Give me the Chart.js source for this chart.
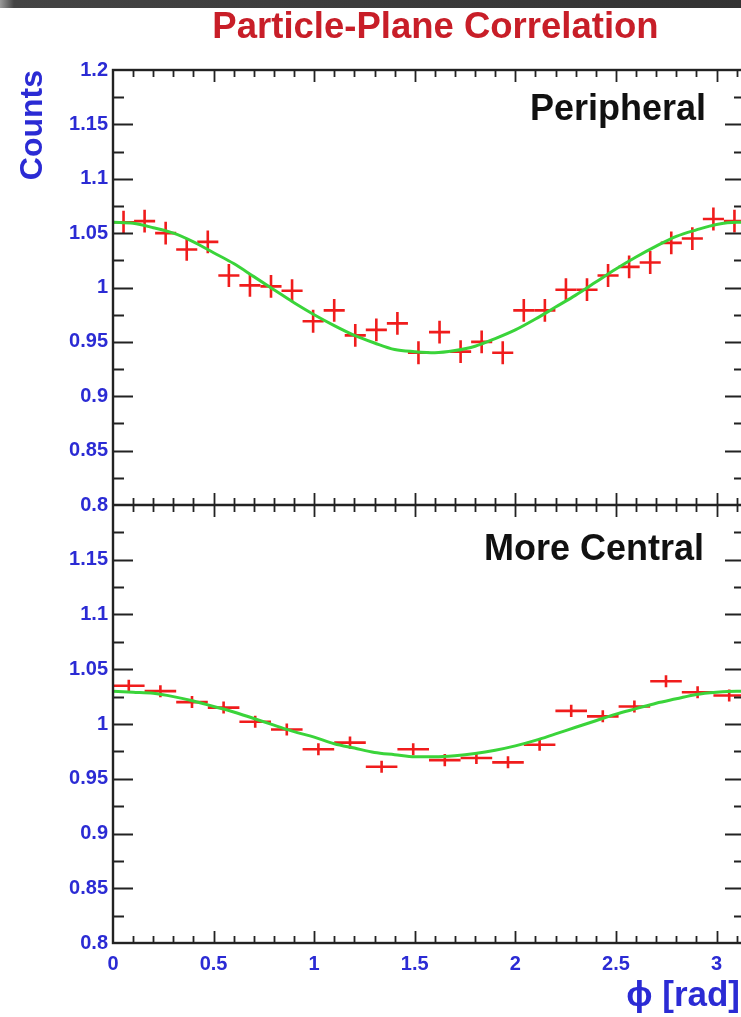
<!DOCTYPE html>
<html>
<head>
<meta charset="utf-8">
<script src="https://cdn.jsdelivr.net/npm/chart.js@4.4.1/dist/chart.umd.min.js"></script>
<style>
  html, body { margin: 0; padding: 0; background: #ffffff; overflow: hidden; width: 741px; height: 1017px; }
  #wrap { position: relative; width: 741px; height: 1017px; overflow: hidden; }
  #topbar { position: absolute; left: 0; top: 0; width: 741px; height: 8px;
            background: linear-gradient(to right, #9a9a9a 0px, #444 14px, #333 100%); }
  canvas { position: absolute; left: 0; top: 0; }
</style>
</head>
<body>
<div id="wrap">
  <canvas id="c" width="780" height="1017"></canvas>
  <div id="topbar"></div>
</div>
<script>
// Peripheral events: 30 bins in phi
const phiTop = [0.0524, 0.1571, 0.2618, 0.3665, 0.4712, 0.5760, 0.6807, 0.7854, 0.8901, 0.9948,
                1.0996, 1.2043, 1.3090, 1.4137, 1.5184, 1.6232, 1.7279, 1.8326, 1.9373, 2.0420,
                2.1468, 2.2515, 2.3562, 2.4609, 2.5656, 2.6704, 2.7751, 2.8798, 2.9845, 3.0892];
const countsTop = [1.060, 1.061, 1.050, 1.035, 1.042, 1.011, 1.002, 1.001, 0.997, 0.969,
                   0.979, 0.956, 0.961, 0.967, 0.940, 0.959, 0.941, 0.950, 0.940, 0.979,
                   0.979, 0.998, 0.998, 1.011, 1.019, 1.023, 1.041, 1.045, 1.063, 1.061];
const errTop = 0.0105;
const halfBinTop = 0.0524;

// More central events: 20 bins in phi
const phiBottom = [0.0785, 0.2356, 0.3927, 0.5498, 0.7069, 0.8639, 1.0210, 1.1781, 1.3352, 1.4923,
                   1.6493, 1.8064, 1.9635, 2.1206, 2.2777, 2.4347, 2.5918, 2.7489, 2.9060, 3.0631];
const countsBottom = [1.035, 1.030, 1.020, 1.015, 1.002, 0.995, 0.977, 0.983, 0.961, 0.977,
                      0.967, 0.969, 0.965, 0.981, 1.012, 1.007, 1.016, 1.039, 1.029, 1.026];
const errBottom = 0.0055;
const halfBinBottom = 0.0785;

// Fitted curves, sampled along phi
const fitPhi = [0, 0.1, 0.2, 0.3, 0.4, 0.5, 0.6, 0.7, 0.8, 0.9, 1.0, 1.1, 1.2, 1.3, 1.4, 1.5,
                1.6, 1.7, 1.8, 1.9, 2.0, 2.1, 2.2, 2.3, 2.4, 2.5, 2.6, 2.7, 2.8, 2.9, 3.0, 3.1, 3.1416];
const fitTop = [1.060, 1.059, 1.055, 1.050, 1.042, 1.032, 1.022, 1.010, 0.998, 0.986, 0.975,
                0.965, 0.956, 0.949, 0.943, 0.941, 0.940, 0.942, 0.946, 0.953, 0.961, 0.971,
                0.982, 0.993, 1.005, 1.017, 1.028, 1.038, 1.047, 1.053, 1.058, 1.060, 1.060];
const fitBottom = [1.030, 1.029, 1.028, 1.025, 1.021, 1.016, 1.011, 1.005, 0.999, 0.993, 0.988,
                   0.982, 0.978, 0.974, 0.972, 0.970, 0.970, 0.971, 0.973, 0.976, 0.980, 0.985,
                   0.991, 0.997, 1.003, 1.009, 1.014, 1.019, 1.023, 1.027, 1.029, 1.030, 1.030];

// Axis ticks
const xTickVals = [0, 0.5, 1, 1.5, 2, 2.5, 3];
const yTickVals = [0.8, 0.85, 0.9, 0.95, 1, 1.05, 1.1, 1.15, 1.2];

const PHI_MAX = Math.PI;
const BLUE = '#2b2bd4';
const RED = '#f01c1c';
const GREEN = '#3ad43a';
const FRAME = '#222222';
const FONT = '"Liberation Sans", Arial, Helvetica, sans-serif';

const toXY = (xs, ys) => xs.map((x, i) => ({ x: x, y: ys[i] }));

// Crosses: horizontal bar = bin width, vertical bar = error
const crossPlugin = {
  id: 'crosses',
  beforeDatasetsDraw(chart) {
    const ctx = chart.ctx;
    const xs = chart.scales.x;
    const area = chart.chartArea;
    ctx.save();
    ctx.beginPath();
    ctx.rect(area.left, area.top, area.right - area.left, area.bottom - area.top);
    ctx.clip();
    chart.data.datasets.forEach(ds => {
      if (ds.errY === undefined) return;
      const ys = chart.scales[ds.yAxisID];
      ctx.strokeStyle = RED;
      ctx.lineWidth = 2.6;
      ds.data.forEach(p => {
        const cx = xs.getPixelForValue(p.x);
        const cy = ys.getPixelForValue(p.y);
        const x0 = xs.getPixelForValue(p.x - ds.halfW);
        const x1 = xs.getPixelForValue(p.x + ds.halfW);
        const y0 = ys.getPixelForValue(p.y + ds.errY);
        const y1 = ys.getPixelForValue(p.y - ds.errY);
        ctx.beginPath();
        ctx.moveTo(x0, cy); ctx.lineTo(x1, cy);
        ctx.moveTo(cx, y0); ctx.lineTo(cx, y1);
        ctx.stroke();
      });
    });
    ctx.restore();
  }
};

// Frame, inward ticks and text annotations
const framePlugin = {
  id: 'frame',
  afterDraw(chart) {
    const ctx = chart.ctx;
    const xs = chart.scales.x;
    const yT = chart.scales.yTop;
    const yB = chart.scales.yBottom;
    const L = chart.chartArea.left, R = chart.chartArea.right;
    ctx.save();
    ctx.strokeStyle = FRAME;
    ctx.lineWidth = 1.8;

    [yT, yB].forEach(s => {
      // y ticks every 0.025, longer at labelled values
      for (let k = 1; k < 16; k++) {
        const v = 0.8 + k * 0.025;
        const py = Math.round(s.getPixelForValue(v)) + 0.5;
        const len = (k % 2 === 0) ? 20 : 11;
        ctx.beginPath();
        ctx.moveTo(L, py); ctx.lineTo(L + len, py);
        ctx.moveTo(R, py); ctx.lineTo(R - len, py);
        ctx.stroke();
      }
      // x ticks every 0.1, longer at labelled values
      for (let k = 1; k <= 31; k++) {
        const px = Math.round(xs.getPixelForValue(k * 0.1)) + 0.5;
        const len = (k % 5 === 0) ? 12 : 7;
        ctx.beginPath();
        ctx.moveTo(px, s.top); ctx.lineTo(px, s.top + len);
        ctx.moveTo(px, s.bottom); ctx.lineTo(px, s.bottom - len);
        ctx.stroke();
      }
    });

    // frame of both panels
    ctx.lineWidth = 2.4;
    ctx.strokeRect(L, yT.top, R - L, yB.bottom - yT.top);
    ctx.beginPath();
    ctx.moveTo(L, yT.bottom); ctx.lineTo(R, yT.bottom);
    ctx.stroke();

    // title
    ctx.fillStyle = '#c81e28';
    ctx.font = 'bold 36.5px ' + FONT;
    ctx.textAlign = 'center';
    ctx.textBaseline = 'alphabetic';
    ctx.fillText('Particle-Plane Correlation', 435.5, 38);

    // panel labels
    ctx.fillStyle = '#111111';
    ctx.font = 'bold 36px ' + FONT;
    ctx.textAlign = 'right';
    ctx.fillText('Peripheral', 706, yT.top + 50);
    ctx.fillText('More Central', 704, yB.top + 55);

    // axis titles
    ctx.fillStyle = BLUE;
    ctx.font = 'bold 35px ' + FONT;
    ctx.fillText('\u03D5 [rad]', 740, 1006);
    ctx.font = 'bold 32px ' + FONT;
    ctx.save();
    ctx.translate(42, yT.top);
    ctx.rotate(-Math.PI / 2);
    ctx.textAlign = 'right';
    ctx.fillText('Counts', 0, 0);
    ctx.restore();

    ctx.restore();
  }
};

const tickFont = { family: FONT, size: 20, weight: 'bold' };
const fmt = v => String(Math.round(v * 100) / 100);

function yAxis(weight, stackWeight, hideTop) {
  return {
    type: 'linear',
    position: 'left',
    stack: 'panels',
    stackWeight: stackWeight,
    weight: weight,
    min: 0.8,
    max: 1.2,
    grid: { display: false, drawTicks: false },
    border: { display: false },
    ticks: {
      font: tickFont,
      color: BLUE,
      padding: 5,
      callback: v => (hideTop && v > 1.19) ? '' : fmt(v)
    },
    afterBuildTicks: s => { s.ticks = yTickVals.map(v => ({ value: v })); },
    afterFit: s => { s.width = 113; }
  };
}

new Chart(document.getElementById('c'), {
  type: 'scatter',
  data: {
    datasets: [
      { label: 'Peripheral', data: toXY(phiTop, countsTop), yAxisID: 'yTop',
        pointRadius: 0, showLine: false, errY: errTop, halfW: halfBinTop },
      { label: 'Peripheral fit', data: toXY(fitPhi, fitTop), yAxisID: 'yTop',
        showLine: true, pointRadius: 0, borderColor: GREEN, borderWidth: 3,
        cubicInterpolationMode: 'monotone' },
      { label: 'More Central', data: toXY(phiBottom, countsBottom), yAxisID: 'yBottom',
        pointRadius: 0, showLine: false, errY: errBottom, halfW: halfBinBottom },
      { label: 'More Central fit', data: toXY(fitPhi, fitBottom), yAxisID: 'yBottom',
        showLine: true, pointRadius: 0, borderColor: GREEN, borderWidth: 3,
        cubicInterpolationMode: 'monotone' }
    ]
  },
  options: {
    responsive: false,
    animation: false,
    devicePixelRatio: 1,
    layout: { padding: { top: 70, right: 35, bottom: 0, left: 0 } },
    plugins: { legend: { display: false }, tooltip: { enabled: false }, title: { display: false } },
    scales: {
      x: {
        type: 'linear',
        position: 'bottom',
        min: 0,
        max: PHI_MAX,
        grid: { display: false, drawTicks: false },
        border: { display: false },
        ticks: { font: tickFont, color: BLUE, padding: 9, maxRotation: 0, callback: v => fmt(v) },
        afterBuildTicks: s => { s.ticks = xTickVals.map(v => ({ value: v })); },
        afterFit: s => { s.height = 74; }
      },
      yBottom: yAxis(0, 438, true),
      yTop: yAxis(1, 435, false)
    }
  },
  plugins: [crossPlugin, framePlugin]
});
</script>
</body>
</html>
